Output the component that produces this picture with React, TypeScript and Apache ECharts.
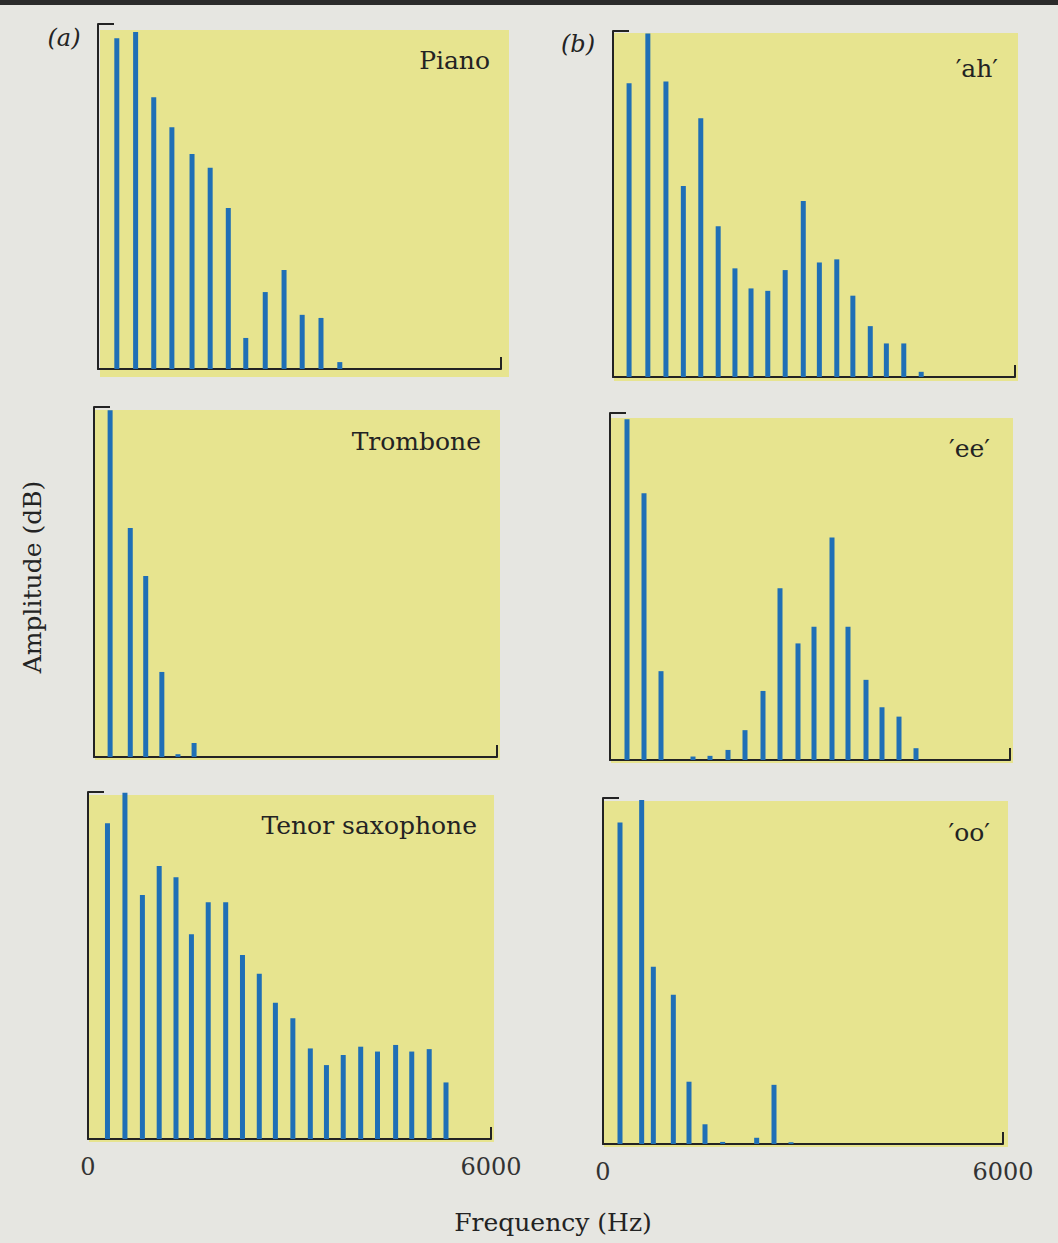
import React, { useEffect, useRef } from "react";
import * as echarts from "echarts";

// Frequencies (Hz) and amplitudes (relative dB scale, 0-100)
const pianoFreq = [280, 560, 830, 1100, 1400, 1670, 1940, 2200, 2490, 2770, 3040, 3320, 3600];
const pianoAmp = [95.9, 97.7, 78.8, 70.1, 62.3, 58.3, 46.7, 9.0, 22.3, 28.7, 15.7, 14.8, 2.0];

const tromboneFreq = [240, 540, 770, 1010, 1250, 1490];
const tromboneAmp = [99.1, 65.4, 51.7, 24.3, 0.8, 4.0];

const saxFreq = [290, 550, 810, 1060, 1310, 1540, 1790, 2050, 2300, 2550, 2790, 3050, 3310, 3550, 3800, 4060, 4310, 4580, 4820, 5080, 5330];
const saxAmp = [91.0, 99.8, 70.3, 78.7, 75.4, 59.0, 68.2, 68.2, 53.0, 47.6, 39.3, 34.8, 26.1, 21.3, 24.2, 26.6, 25.2, 27.1, 25.2, 25.9, 16.3];

const ahFreq = [240, 520, 790, 1050, 1310, 1570, 1820, 2060, 2310, 2570, 2840, 3080, 3340, 3580, 3840, 4080, 4340, 4600];
const ahAmp = [84.9, 99.3, 85.4, 55.2, 74.8, 43.6, 31.4, 25.6, 24.9, 30.9, 50.9, 33.1, 34.0, 23.5, 14.7, 9.7, 9.7, 1.5];

const eeFreq = [255, 510, 765, 1245, 1500, 1770, 2025, 2295, 2550, 2820, 3060, 3330, 3570, 3840, 4080, 4335, 4590];
const eeAmp = [98.2, 76.9, 25.6, 1.0, 1.2, 2.9, 8.6, 19.9, 49.5, 33.6, 38.4, 64.1, 38.4, 23.1, 15.2, 12.5, 3.4];

const ooFreq = [255, 580, 755, 1055, 1290, 1530, 1795, 2305, 2565, 2820];
const ooAmp = [92.9, 99.4, 51.2, 43.1, 18.0, 5.7, 0.6, 1.8, 17.1, 0.5];

const panelNames = ["Piano", "Trombone", "Tenor saxophone", "\u2032ah\u2032", "\u2032ee\u2032", "\u2032oo\u2032"];
const xTickLabels = ["0", "6000"];
const xMax = 6000;
const yMax = 100;

const SERIF = "'DejaVu Serif', 'Liberation Serif', serif";
const INK = "#232323";
const BLUE = "#1f6fb6";
const YELLOW = "#e7e48f";

export default function App() {
  const ref = useRef<HTMLDivElement>(null);
  useEffect(() => {
    document.body.style.margin = "0";
    const chart = echarts.init(ref.current!, null, { renderer: "svg" });

    const freqs = [pianoFreq, tromboneFreq, saxFreq, ahFreq, eeFreq, ooFreq];
    const amps = [pianoAmp, tromboneAmp, saxAmp, ahAmp, eeAmp, ooAmp];

    // layout: grid boxes (axis area) and yellow panels
    const grids = [
      { left: 98, top: 24, width: 403, height: 345 },
      { left: 94, top: 407, width: 403, height: 350 },
      { left: 88, top: 792, width: 403, height: 347 },
      { left: 613, top: 31, width: 402, height: 346 },
      { left: 610, top: 413, width: 400, height: 347 },
      { left: 603, top: 798, width: 400, height: 346 },
    ];
    const yellow = [
      { x: 100, y: 30, w: 409, h: 347 },
      { x: 95, y: 410, w: 405, h: 350 },
      { x: 89, y: 795, w: 405, h: 347 },
      { x: 614, y: 33, w: 404, h: 348 },
      { x: 611, y: 418, w: 402, h: 345 },
      { x: 604, y: 801, w: 404, h: 346 },
    ];
    const nameRight = [490, 481, 477, 998, 990, 990];
    const nameY = [60, 441, 825, 68, 448, 832];
    const showLabels = [false, false, true, false, false, true];

    const graphics: any[] = [
      { type: "rect", shape: { x: 0, y: 0, width: 1058, height: 5 }, style: { fill: "#2b2b2b" }, z: -10 },
    ];
    yellow.forEach((r) => {
      graphics.push({ type: "rect", shape: { x: r.x, y: r.y, width: r.w, height: r.h }, style: { fill: YELLOW }, z: -5 });
    });
    panelNames.forEach((n, i) => {
      graphics.push({
        type: "text",
        x: nameRight[i],
        y: nameY[i],
        style: { text: n, font: `25px ${SERIF}`, fill: INK, align: "right", verticalAlign: "middle" },
        z: 10,
      });
    });
    graphics.push({
      type: "text", x: 64, y: 38,
      style: { text: "(a)", font: `italic 24px ${SERIF}`, fill: INK, align: "center", verticalAlign: "middle" },
    });
    graphics.push({
      type: "text", x: 578, y: 44,
      style: { text: "(b)", font: `italic 24px ${SERIF}`, fill: INK, align: "center", verticalAlign: "middle" },
    });
    graphics.push({
      type: "text", x: 32, y: 577, rotation: Math.PI / 2,
      style: { text: "Amplitude (dB)", font: `25px ${SERIF}`, fill: INK, align: "center", verticalAlign: "middle" },
    });
    graphics.push({
      type: "text", x: 553, y: 1222,
      style: { text: "Frequency (Hz)", font: `25px ${SERIF}`, fill: INK, align: "center", verticalAlign: "middle" },
    });

    const option: any = {
      animation: false,
      backgroundColor: "#e6e6e1",
      grid: grids.map((g) => ({ ...g, containLabel: false })),
      xAxis: grids.map((_, i) => ({
        type: "value",
        gridIndex: i,
        min: 0,
        max: xMax,
        interval: xMax,
        axisLine: { show: true, onZero: false, lineStyle: { color: INK, width: 2 } },
        axisTick: { show: true, inside: true, length: 12, lineStyle: { color: INK, width: 2 } },
        splitLine: { show: false },
        axisLabel: {
          show: showLabels[i],
          margin: 16,
          fontFamily: SERIF,
          fontSize: 24,
          color: "#333",
          formatter: (v: number) => (v === 0 ? xTickLabels[0] : xTickLabels[1]),
        },
      })),
      yAxis: grids.map((_, i) => ({
        type: "value",
        gridIndex: i,
        min: 0,
        max: yMax,
        interval: yMax,
        axisLine: { show: true, lineStyle: { color: INK, width: 2 } },
        axisTick: { show: true, inside: true, length: 16, lineStyle: { color: INK, width: 2 } },
        splitLine: { show: false },
        axisLabel: { show: false },
      })),
      series: freqs.map((f, i) => ({
        type: "bar",
        xAxisIndex: i,
        yAxisIndex: i,
        barWidth: 5,
        itemStyle: { color: BLUE },
        data: f.map((x, k) => [x, amps[i][k]]),
        z: 3,
      })),
      graphic: graphics,
    };
    chart.setOption(option);
    return () => chart.dispose();
  }, []);
  return <div ref={ref} style={{ width: 1058, height: 1243 }} />;
}
